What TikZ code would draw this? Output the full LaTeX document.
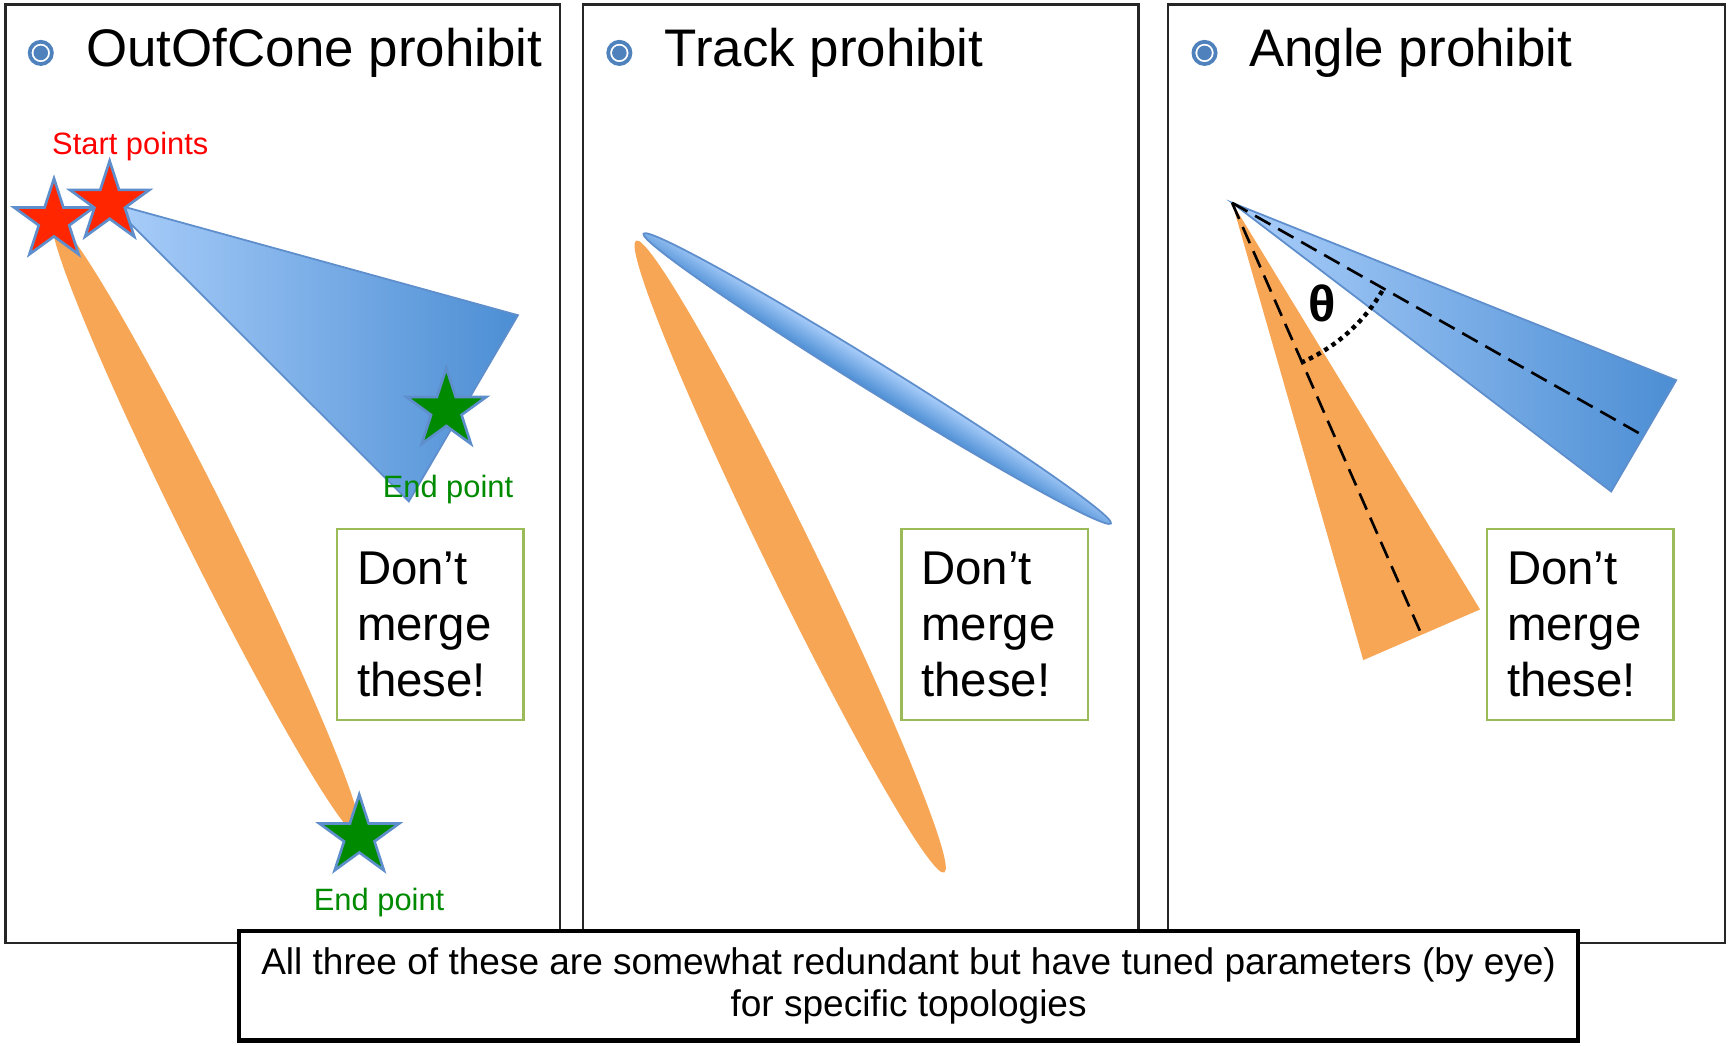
\documentclass[tikz,border=0pt]{standalone}
\usepackage{fontspec}
\setmainfont{Liberation Sans}
\usepackage{xcolor}
\usetikzlibrary{shapes.geometric}

\definecolor{trackorange}{RGB}{247,166,86}
\definecolor{conelight}{RGB}{170,206,250}
\definecolor{conedark}{RGB}{76,142,212}
\definecolor{coneedge}{RGB}{94,142,204}
\definecolor{bulletblue}{RGB}{79,129,189}
\definecolor{boxgreen}{RGB}{155,187,89}
\definecolor{startred}{RGB}{255,38,0}
\definecolor{endgreen}{RGB}{0,138,0}

\begin{document}
\begin{tikzpicture}[x=0.5pt,y=-0.5pt,
    panel/.style={draw=black!85,line width=1pt},
    bullet/.style={circle,draw=bulletblue,line width=1.7pt,minimum size=10.1pt,inner sep=0pt,
      path picture={\fill[bulletblue] (path picture bounding box.center) circle (3.3pt);}},
    title/.style={anchor=base west,inner sep=0pt,font=\fontsize{24}{28}\selectfont},
    redstar/.style={shape=star,star points=5,star point ratio=2.618,minimum size=38pt,inner sep=0pt,
      fill=startred,draw=coneedge,line width=1.2pt},
    greenstar/.style={redstar,fill=endgreen},
    endlabel/.style={anchor=base,inner sep=0pt,text=endgreen,font=\fontsize{14}{16}\selectfont},
    mergebox/.style={draw=boxgreen,line width=1pt,minimum width=84.5pt,minimum height=86.5pt,
      text width=66.5pt,inner xsep=9pt,align=left,font=\fontsize{21.5}{25.5}\selectfont},
    cone/.style={left color=conelight,right color=conedark,draw=coneedge,line width=0.8pt},
    axisline/.style={dash pattern=on 8pt off 4pt,line width=1.2pt}]
    \useasboundingbox (0,0) rectangle (1568,949);

    \draw[panel] (5,4) rectangle (508,856);
    \draw[panel] (529,4) rectangle (1033,856);
    \draw[panel] (1060,4) rectangle (1565,856);

    \node[bullet] (b1) at (37,48) {};
    \node[bullet] (b2) at (562,48) {};
    \node[bullet] (b3) at (1093,48) {};
    \node[title] (t1) at (78,60.5) {OutOfCone prohibit};
    \node[title] (t2) at (603,60.5) {Track prohibit};
    \node[title] (t3) at (1133,60.5) {Angle prohibit};

    % OutOfCone
    \coordinate (s1) at (49,200);
    \coordinate (s2) at (99.5,184);
    \coordinate (e1) at (405,372);
    \coordinate (e2) at (326,759);
    \fill[trackorange,rotate around={-63.6:(187.5,479.5)}] (187.5,479.5) ellipse [x radius=312,y radius=22];
    \filldraw[cone] (s2) -- (470,286) -- (371,455) -- cycle;
    \node[redstar] (star1) at (s1) {};
    \node[redstar] (star2) at (s2) {};
    \node[greenstar] (end1) at (e1) {};
    \node[greenstar] (end2) at (e2) {};
    \node[anchor=base west,inner sep=0pt,text=red,font=\fontsize{14}{16}\selectfont] (start) at (47,140) {Start points};
    \node[endlabel] (lab1) at (406.5,451) {End point};
    \node[endlabel] (lab2) at (344,826) {End point};
    \node[mergebox] (m1) at (390.5,566.5) {Don’t merge these!};

    % Track
    \fill[trackorange,rotate around={-64:(717,505)}] (717,505) ellipse [x radius=319,y radius=22];
    \shade[top color=conelight,bottom color=conedark,transform canvas={rotate around={-31.8:(796,343.5)}}]
      (796,343.5) ellipse [x radius=249.5,y radius=13];
    \draw[coneedge,line width=0.8pt,rotate around={-31.8:(796,343.5)}]
      (796,343.5) ellipse [x radius=249.5,y radius=13];
    \node[mergebox] (m2) at (902.5,566.5) {Don’t merge these!};

    % Angle
    \coordinate (apex) at (1118,184);
    \fill[trackorange] (apex) -- (1237,599) -- (1343,553) -- cycle;
    \filldraw[cone] (apex) -- (1521,345) -- (1462,446) -- cycle;
    \draw[axisline] (apex) -- (1290,576);
    \draw[axisline] (apex) -- (1491.5,395.5);
    \draw[line width=2pt,dash pattern=on 2pt off 2pt] (apex) ++(66.7:158) arc (66.7:29.6:158);
    \node[font=\fontsize{23}{26}\selectfont\bfseries] (theta) at (1200,275) {θ};
    \node[mergebox] (m3) at (1434,566.5) {Don’t merge these!};

    \node[draw,line width=2pt,fill=white,minimum width=607.5pt,minimum height=49.5pt,align=center,
      font=\fontsize{16.8}{19}\selectfont] (note) at (824.5,894.5)
      {All three of these are somewhat redundant but have tuned parameters (by eye)\\for specific topologies};
\end{tikzpicture}
\end{document}
